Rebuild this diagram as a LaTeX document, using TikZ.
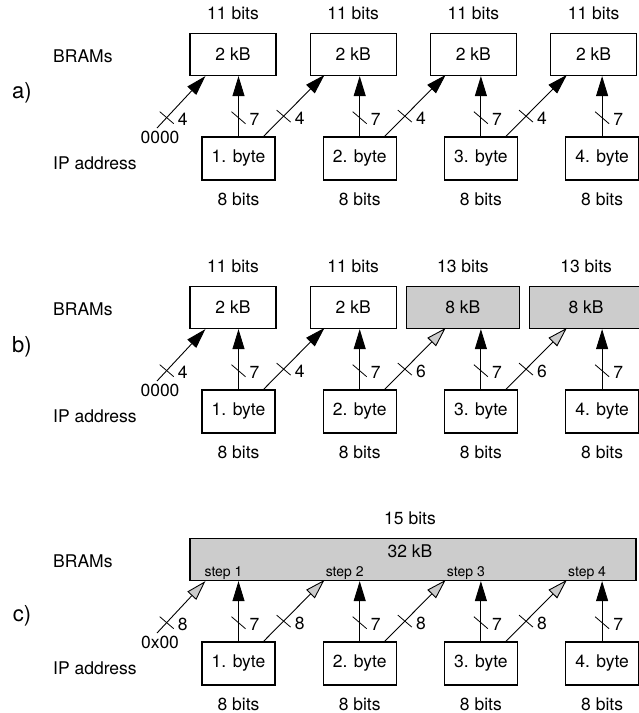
\documentclass[tikz,border=0pt]{standalone}
\usepackage{fontspec}
\setmainfont{TeX Gyre Heros}
\usetikzlibrary{positioning,calc,arrows.meta}
\definecolor{bramgray}{HTML}{CCCCCC}
\newcommand{\busmark}[2]{%
  \draw[line width=0.8pt] ($(#1)+(-7,-6)$) -- ($(#1)+(7,6)$);
  \node[txt, anchor=west] (#1-w) at ($(#1)+(11,2)$) {#2};}

\begin{document}
\begin{tikzpicture}[x=1pt, y=-1pt,
  txt/.style={inner sep=0pt, font=\fontsize{17.5}{21}\selectfont},
  steplbl/.style={inner sep=0pt, font=\fontsize{14}{16}\selectfont},
  side/.style={inner sep=0pt, font=\fontsize{22}{26}\selectfont},
  bram/.style={txt, draw, line width=1.2pt, minimum width=86pt, minimum height=42pt},
  wide/.style={bram, fill=bramgray, minimum width=113pt},
  byte/.style={txt, draw, line width=1.2pt, minimum width=73pt, minimum height=43pt},
  arr/.style={line width=0.9pt, -{Triangle[length=20pt, width=12pt]}},
  garr/.style={line width=0.9pt, -{Triangle[length=20pt, width=12pt, fill=bramgray]}}]
      \useasboundingbox (0,0) rectangle (639,713);

      % a)
      \node[side] (a-lab) at (22,93) {a)};
      \node[txt, anchor=west] (a-brams) at (53,56) {BRAMs};
      \node[txt, anchor=west] (a-ip) at (53,163) {IP address};
      \node[txt] (a-z) at (160,137) {0000};
      \node[bram] (a-m1) at (233,54.5) {2 kB};
      \node[bram, right=33pt of a-m1] (a-m2) {2 kB};
      \node[bram, right=33pt of a-m2] (a-m3) {2 kB};
      \node[bram, right=33pt of a-m3] (a-m4) {2 kB};
      \node[txt, above=13pt of a-m1] (a-t1) {11 bits};
      \node[txt, above=13pt of a-m2] (a-t2) {11 bits};
      \node[txt, above=13pt of a-m3] (a-t3) {11 bits};
      \node[txt, above=13pt of a-m4] (a-t4) {11 bits};
      \node[byte] (a-b1) at (238.5,158.5) {1. byte};
      \node[byte, right=47pt of a-b1] (a-b2) {2. byte};
      \node[byte, right=47pt of a-b2] (a-b3) {3. byte};
      \node[byte, right=47pt of a-b3] (a-b4) {4. byte};
      \node[txt, below=12pt of a-b1] (a-e1) {8 bits};
      \node[txt, below=12pt of a-b2] (a-e2) {8 bits};
      \node[txt, below=12pt of a-b3] (a-e3) {8 bits};
      \node[txt, below=12pt of a-b4] (a-e4) {8 bits};

      \coordinate (a-s) at (157,128);
      \draw[arr] (a-s) -- coordinate[pos=.2] (a-d0) ($(a-m1.south west)+(16,0)$);
      \draw[arr] (a-b1) -- coordinate[pos=.31] (a-v1) (a-b1 |- a-m1.south);
      \draw[arr] (a-b2) -- coordinate[pos=.31] (a-v2) (a-b2 |- a-m2.south);
      \draw[arr] (a-b3) -- coordinate[pos=.31] (a-v3) (a-b3 |- a-m3.south);
      \draw[arr] (a-b4) -- coordinate[pos=.31] (a-v4) (a-b4 |- a-m4.south);
      \draw[arr] ($(a-b1.north)+(25,0)$) -- coordinate[pos=.33] (a-d1) ($(a-b1.north)+(86,-61.5)$);
      \draw[arr] ($(a-b2.north)+(25,0)$) -- coordinate[pos=.33] (a-d2) ($(a-b2.north)+(86,-61.5)$);
      \draw[arr] ($(a-b3.north)+(25,0)$) -- coordinate[pos=.33] (a-d3) ($(a-b3.north)+(86,-61.5)$);
      \busmark{a-d0}{4} \busmark{a-d1}{4} \busmark{a-d2}{4} \busmark{a-d3}{4}
      \busmark{a-v1}{7} \busmark{a-v2}{7} \busmark{a-v3}{7} \busmark{a-v4}{7}

      % b)
      \node[side] (b-lab) at (22,347) {b)};
      \node[txt, anchor=west] (b-brams) at (53,309.5) {BRAMs};
      \node[txt, anchor=west] (b-ip) at (53,416) {IP address};
      \node[txt] (b-z) at (160,390) {0000};
      \node[bram] (b-m1) at (233,307.5) {2 kB};
      \node[bram, right=33pt of b-m1] (b-m2) {2 kB};
      \node[wide, right=9pt of b-m2] (b-m3) {8 kB};
      \node[wide, right=9pt of b-m3] (b-m4) {8 kB};
      \node[txt, above=13pt of b-m1] (b-t1) {11 bits};
      \node[txt, above=13pt of b-m2] (b-t2) {11 bits};
      \node[txt, above=13pt of b-m3] (b-t3) {13 bits};
      \node[txt, above=13pt of b-m4] (b-t4) {13 bits};
      \node[byte] (b-b1) at (238.5,411.5) {1. byte};
      \node[byte, right=47pt of b-b1] (b-b2) {2. byte};
      \node[byte, right=47pt of b-b2] (b-b3) {3. byte};
      \node[byte, right=47pt of b-b3] (b-b4) {4. byte};
      \node[txt, below=12pt of b-b1] (b-e1) {8 bits};
      \node[txt, below=12pt of b-b2] (b-e2) {8 bits};
      \node[txt, below=12pt of b-b3] (b-e3) {8 bits};
      \node[txt, below=12pt of b-b4] (b-e4) {8 bits};

      \coordinate (b-s) at (157,381);
      \draw[arr] (b-s) -- coordinate[pos=.2] (b-d0) ($(b-m1.south west)+(16,0)$);
      \draw[arr] (b-b1) -- coordinate[pos=.31] (b-v1) (b-b1 |- b-m1.south);
      \draw[arr] (b-b2) -- coordinate[pos=.31] (b-v2) (b-b2 |- b-m2.south);
      \draw[arr] (b-b3) -- coordinate[pos=.31] (b-v3) (b-b3 |- b-m3.south);
      \draw[arr] (b-b4) -- coordinate[pos=.31] (b-v4) (b-b4 |- b-m4.south);
      \draw[arr] ($(b-b1.north)+(25,0)$) -- coordinate[pos=.33] (b-d1) ($(b-b1.north)+(86,-61.5)$);
      \draw[garr] ($(b-b2.north)+(25,0)$) -- coordinate[pos=.33] (b-d2) ($(b-b2.north)+(86,-61.5)$);
      \draw[garr] ($(b-b3.north)+(25,0)$) -- coordinate[pos=.33] (b-d3) ($(b-b3.north)+(86,-61.5)$);
      \busmark{b-d0}{4} \busmark{b-d1}{4} \busmark{b-d2}{6} \busmark{b-d3}{6}
      \busmark{b-v1}{7} \busmark{b-v2}{7} \busmark{b-v3}{7} \busmark{b-v4}{7}

      % c)
      \node[side] (c-lab) at (22,616) {c)};
      \node[txt, anchor=west] (c-brams) at (53,561) {BRAMs};
      \node[txt, anchor=west] (c-ip) at (53,668) {IP address};
      \node[txt] (c-z) at (160,642) {0x00};
      \node[bram, fill=bramgray, minimum width=446pt] (c-m) at (413,559.5) {};
      \node[txt, below=7pt of c-m.north, xshift=-3pt] (c-kb) {32 kB};
      \node[txt, above=13pt of c-m, xshift=-3pt] (c-t) {15 bits};
      \node[byte] (c-b1) at (238.5,663.5) {1. byte};
      \node[byte, right=47pt of c-b1] (c-b2) {2. byte};
      \node[byte, right=47pt of c-b2] (c-b3) {3. byte};
      \node[byte, right=47pt of c-b3] (c-b4) {4. byte};
      \node[txt, below=12pt of c-b1] (c-e1) {8 bits};
      \node[txt, below=12pt of c-b2] (c-e2) {8 bits};
      \node[txt, below=12pt of c-b3] (c-e3) {8 bits};
      \node[txt, below=12pt of c-b4] (c-e4) {8 bits};
      \node[steplbl, anchor=base] (c-st1) at ($(c-b1 |- c-m.south)+(-15,-4.5)$) {step 1};
      \node[steplbl, anchor=base] (c-st2) at ($(c-b2 |- c-m.south)+(-15,-4.5)$) {step 2};
      \node[steplbl, anchor=base] (c-st3) at ($(c-b3 |- c-m.south)+(-15,-4.5)$) {step 3};
      \node[steplbl, anchor=base] (c-st4) at ($(c-b4 |- c-m.south)+(-15,-4.5)$) {step 4};

      \coordinate (c-s) at (157,633);
      \draw[garr] (c-s) -- coordinate[pos=.2] (c-d0) ($(c-m.south west)+(16,0)$);
      \draw[arr] (c-b1) -- coordinate[pos=.31] (c-v1) (c-b1 |- c-m.south);
      \draw[arr] (c-b2) -- coordinate[pos=.31] (c-v2) (c-b2 |- c-m.south);
      \draw[arr] (c-b3) -- coordinate[pos=.31] (c-v3) (c-b3 |- c-m.south);
      \draw[arr] (c-b4) -- coordinate[pos=.31] (c-v4) (c-b4 |- c-m.south);
      \draw[garr] ($(c-b1.north)+(25,0)$) -- coordinate[pos=.33] (c-d1) ($(c-b1.north)+(86,-61.5)$);
      \draw[garr] ($(c-b2.north)+(25,0)$) -- coordinate[pos=.33] (c-d2) ($(c-b2.north)+(86,-61.5)$);
      \draw[garr] ($(c-b3.north)+(25,0)$) -- coordinate[pos=.33] (c-d3) ($(c-b3.north)+(86,-61.5)$);
      \busmark{c-d0}{8} \busmark{c-d1}{8} \busmark{c-d2}{8} \busmark{c-d3}{8}
      \busmark{c-v1}{7} \busmark{c-v2}{7} \busmark{c-v3}{7} \busmark{c-v4}{7}
\end{tikzpicture}
\end{document}
